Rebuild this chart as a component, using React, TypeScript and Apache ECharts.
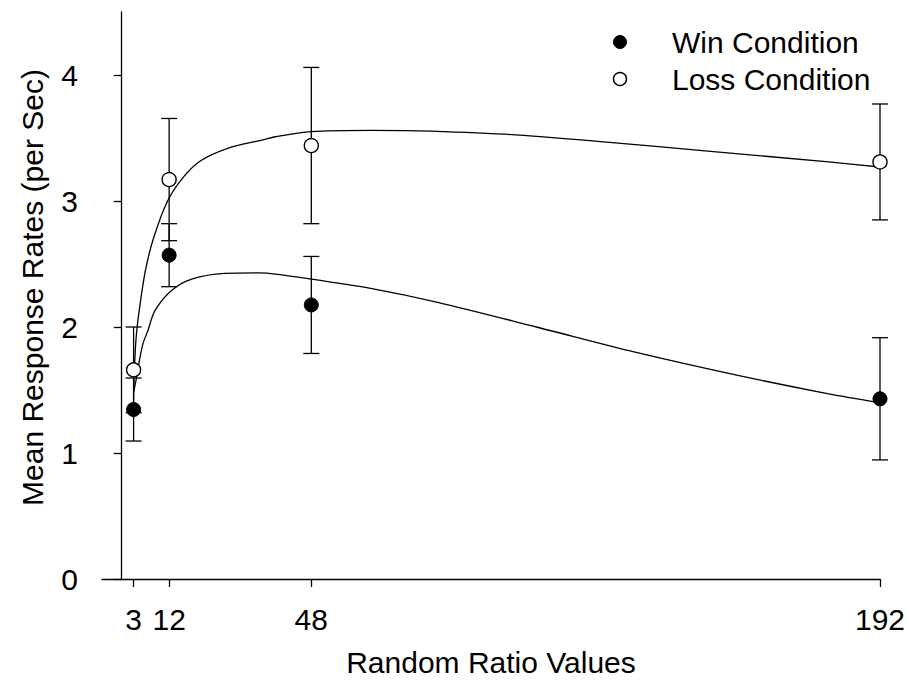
import React, { useEffect, useRef } from "react";
import * as echarts from "echarts";

const ratioValues = [3, 12, 48, 192];
const winMeans = [1.345, 2.57, 2.175, 1.43];
const winErrors = [0.25, 0.25, 0.385, 0.485];
const lossMeans = [1.66, 3.17, 3.44, 3.31];
const lossErrors = [0.34, 0.485, 0.62, 0.46];

const lossCurveX = [3, 3.6, 4.5, 6, 8, 11.6, 15.6, 20, 27, 35, 39, 48, 63, 75, 97, 122, 147, 179, 192];
const lossCurveY = [1.5, 1.9, 2.15, 2.45, 2.7, 3.0, 3.19, 3.32, 3.42, 3.48, 3.51, 3.55, 3.56, 3.557, 3.53, 3.47, 3.4, 3.31, 3.27];
const winCurveX = [3, 3.76, 4.5, 5.4, 6.6, 8.4, 12.6, 17.7, 26, 35, 39, 48, 63, 80, 105, 130, 156, 179, 192];
const winCurveY = [1.48, 1.6, 1.74, 1.87, 1.97, 2.13, 2.29, 2.38, 2.426, 2.43, 2.42, 2.38, 2.307, 2.196, 2.0, 1.8, 1.616, 1.47, 1.4];

const xTicks = [3, 12, 48, 192];
const yTicks = [0, 1, 2, 3, 4];
const legendNames = ["Win Condition", "Loss Condition"];

const FONT = "'Liberation Sans', Arial, Helvetica, sans-serif";

export default function App() {
  const ref = useRef<HTMLDivElement>(null);
  useEffect(() => {
    document.body.style.margin = "0";
    if (!ref.current) return;
    const chart = echarts.init(ref.current, null, { renderer: "svg" });

    const errData = (means: number[], errs: number[]) =>
      ratioValues.map((x, i) => [x, means[i] - errs[i], means[i] + errs[i]]);

    const renderErr = (params: any, api: any) => {
      const x = api.value(0);
      const lo = api.coord([x, api.value(1)]);
      const hi = api.coord([x, api.value(2)]);
      const hw = 8;
      const style = { stroke: "#000", lineWidth: 1.3 };
      return {
        type: "group",
        children: [
          { type: "line", shape: { x1: hi[0], y1: hi[1], x2: lo[0], y2: lo[1] }, style },
          { type: "line", shape: { x1: hi[0] - hw, y1: hi[1], x2: hi[0] + hw, y2: hi[1] }, style },
          { type: "line", shape: { x1: lo[0] - hw, y1: lo[1], x2: lo[0] + hw, y2: lo[1] }, style },
        ],
      };
    };

    chart.setOption({
      animation: false,
      backgroundColor: "#fff",
      textStyle: { fontFamily: FONT, color: "#000" },
      grid: { left: 102, right: 29, top: 12, bottom: 109 },
      xAxis: {
        type: "value",
        min: -5,
        max: 192,
        name: "Random Ratio Values",
        nameLocation: "middle",
        nameGap: 68,
        nameTextStyle: { fontSize: 30, color: "#000", fontFamily: FONT },
        axisLine: { show: true, lineStyle: { color: "#000", width: 1.3 } },
        axisTick: { show: true, length: 8, lineStyle: { color: "#000", width: 1.3 }, customValues: xTicks },
        axisLabel: { fontSize: 30, color: "#000", margin: 25, fontFamily: FONT, customValues: xTicks },
        splitLine: { show: false },
      },
      yAxis: {
        type: "value",
        min: 0,
        max: 4.5,
        name: "Mean Response Rates (per Sec)",
        nameLocation: "middle",
        nameGap: 55,
        nameRotate: 90,
        nameTextStyle: { fontSize: 30, color: "#000", fontFamily: FONT, padding: [0, 0, 0, 16] },
        axisLine: { show: true, lineStyle: { color: "#000", width: 1.3 } },
        axisTick: { show: true, length: 8, lineStyle: { color: "#000", width: 1.3 }, customValues: yTicks },
        axisLabel: { fontSize: 30, color: "#000", margin: 24, fontFamily: FONT, customValues: yTicks },
        splitLine: { show: false },
      },
      series: [
        {
          type: "line",
          name: "Loss fit",
          data: lossCurveX.map((x, i) => [x, lossCurveY[i]]),
          showSymbol: false,
          smooth: 0.3,
          lineStyle: { color: "#000", width: 1.3 },
          z: 1,
        },
        {
          type: "line",
          name: "Win fit",
          data: winCurveX.map((x, i) => [x, winCurveY[i]]),
          showSymbol: false,
          smooth: 0.3,
          lineStyle: { color: "#000", width: 1.3 },
          z: 1,
        },
        {
          type: "custom",
          name: "Win error",
          data: errData(winMeans, winErrors),
          renderItem: renderErr,
          z: 2,
        },
        {
          type: "custom",
          name: "Loss error",
          data: errData(lossMeans, lossErrors),
          renderItem: renderErr,
          z: 2,
        },
        {
          type: "scatter",
          name: legendNames[0],
          data: ratioValues.map((x, i) => [x, winMeans[i]]),
          symbol: "circle",
          symbolSize: 14,
          itemStyle: { color: "#000", borderColor: "#000", borderWidth: 1, opacity: 1 },
          z: 3,
        },
        {
          type: "scatter",
          name: legendNames[1],
          data: ratioValues.map((x, i) => [x, lossMeans[i]]),
          symbol: "circle",
          symbolSize: 14,
          itemStyle: { color: "#fff", borderColor: "#000", borderWidth: 1.4, opacity: 1 },
          z: 3,
        },
      ],
      graphic: [
        { type: "circle", shape: { cx: 620, cy: 42, r: 6.5 }, style: { fill: "#000", stroke: "#000", lineWidth: 1 } },
        { type: "circle", shape: { cx: 620, cy: 79, r: 6.5 }, style: { fill: "#fff", stroke: "#000", lineWidth: 1.4 } },
        {
          type: "text",
          x: 672,
          y: 42,
          style: { text: legendNames[0], fontSize: 30, fontFamily: FONT, fill: "#000", verticalAlign: "middle", align: "left" },
        },
        {
          type: "text",
          x: 672,
          y: 79,
          style: { text: legendNames[1], fontSize: 30, fontFamily: FONT, fill: "#000", verticalAlign: "middle", align: "left" },
        },
      ],
    });
    return () => chart.dispose();
  }, []);
  return <div ref={ref} style={{ width: 909, height: 688 }} />;
}
